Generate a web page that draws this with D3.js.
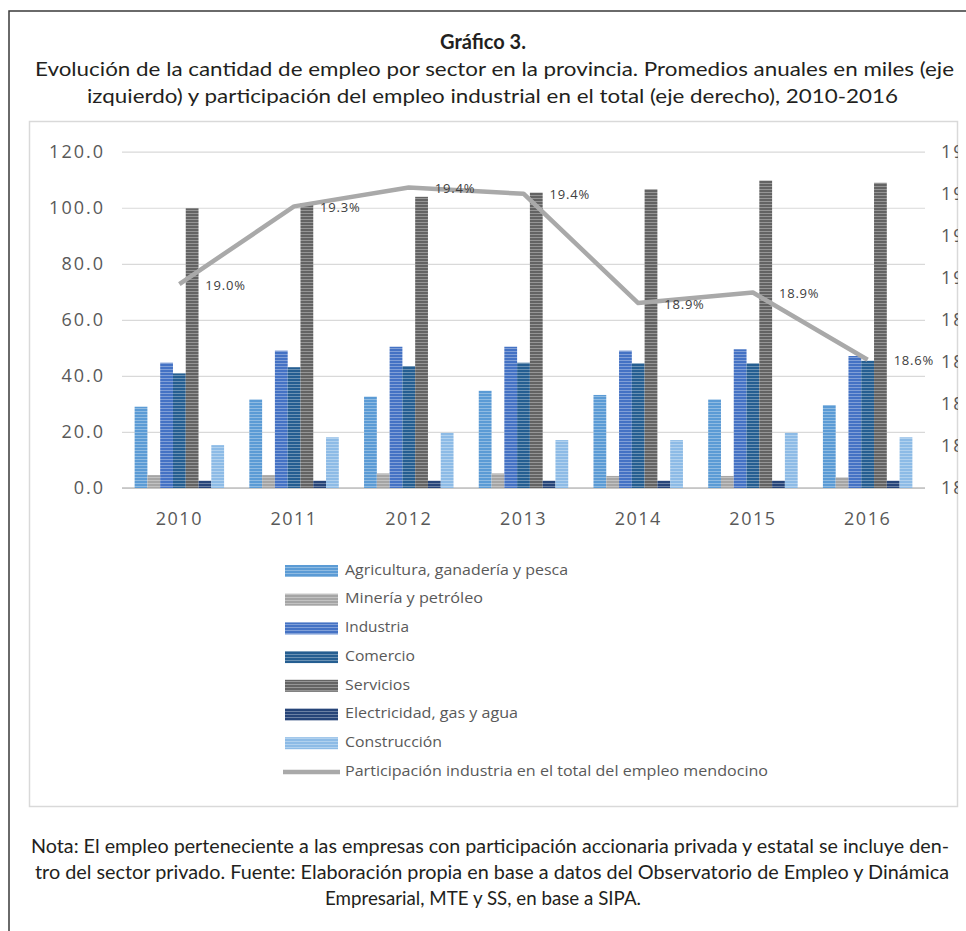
<!DOCTYPE html>
<html>
<head>
<meta charset="utf-8">
<script src="https://cdn.jsdelivr.net/npm/d3@7"></script>
<style>
  html, body { margin: 0; padding: 0; background: #fff; }
  svg { display: block; }
</style>
</head>
<body>
<svg id="chart" width="966" height="931"></svg>
<script>
// ---- Data: annual averages (thousands) by sector, Mendoza 2010-2016 ----
const years = ["2010", "2011", "2012", "2013", "2014", "2015", "2016"];
const sectorNames = [
  "Agricultura, ganadería y pesca",
  "Minería y petróleo",
  "Industria",
  "Comercio",
  "Servicios",
  "Electricidad, gas y agua",
  "Construcción"
];
const agricultura  = [29.0, 31.6, 32.6, 34.7, 33.2, 31.6, 29.6];
const mineria      = [4.6, 4.6, 5.2, 5.2, 4.3, 4.3, 3.8];
const industria    = [44.7, 49.0, 50.4, 50.4, 49.0, 49.5, 47.1];
const comercio     = [40.9, 43.1, 43.5, 44.7, 44.5, 44.5, 45.4];
const servicios    = [99.8, 101.6, 103.9, 105.4, 106.6, 109.7, 108.9];
const electricidad = [2.6, 2.6, 2.6, 2.6, 2.6, 2.6, 2.6];
const construccion = [15.3, 18.1, 19.7, 17.1, 17.1, 19.7, 18.1];
// share of industry in total employment (%), right axis
const lineName = "Participación industria en el total del empleo mendocino";
const participacion = [18.97, 19.34, 19.43, 19.40, 18.88, 18.93, 18.61];

const leftTicks = [0, 20, 40, 60, 80, 100, 120];
const rightTicks = [18.0, 18.2, 18.4, 18.6, 18.8, 19.0, 19.2, 19.4, 19.6];

const seriesValues = [agricultura, mineria, industria, comercio, servicios, electricidad, construccion];
const seriesColors = ["#5b9bd5", "#a5a5a5", "#4472c4", "#255e91", "#636363", "#264478", "#8dbbe6"];
const lineColor = "#a9a9a9";

const svg = d3.select("#chart");
const defs = svg.append("defs");

// striped fills for bars and legend swatches
seriesColors.forEach((c, i) => {
  const p = defs.append("pattern")
    .attr("id", "fill" + i)
    .attr("patternUnits", "userSpaceOnUse")
    .attr("width", 8).attr("height", 3);
  p.append("rect").attr("width", 8).attr("height", 3).attr("fill", c);
  p.append("rect").attr("width", 8).attr("height", 1)
    .attr("fill", d3.interpolateRgb(c, "#ffffff")(0.32));
});

// clip for right-axis labels, cut at the chart box edge
defs.append("clipPath").attr("id", "rightClip")
  .append("rect").attr("x", 930).attr("y", 120).attr("width", 28).attr("height", 400);

function fit(sel, w) {
  sel.attr("textLength", w).attr("lengthAdjust", "spacingAndGlyphs");
  return sel;
}

// ---- outer frame ----
svg.append("path")
  .attr("d", "M9,931 V11 H966")
  .attr("fill", "none").attr("stroke", "#3a3a3a").attr("stroke-width", 1.5);

// ---- title block ----
const titleFont = "Lato, 'Open Sans', sans-serif";
svg.append("text")
  .attr("x", 483).attr("y", 44).attr("text-anchor", "middle")
  .attr("dominant-baseline", "middle")
  .style("font-family", titleFont).style("font-size", "20px").style("font-weight", "bold")
  .attr("fill", "#231f20")
  .text("Gráfico 3.");
fit(svg.append("text")
  .attr("x", 35).attr("y", 71).attr("dominant-baseline", "middle")
  .style("font-family", titleFont).style("font-size", "20px").attr("fill", "#231f20")
  .text("Evolución de la cantidad de empleo por sector en la provincia. Promedios anuales en miles (eje"), 919);
fit(svg.append("text")
  .attr("x", 87).attr("y", 98).attr("dominant-baseline", "middle")
  .style("font-family", titleFont).style("font-size", "20px").attr("fill", "#231f20")
  .text("izquierdo) y participación del empleo industrial en el total (eje derecho), 2010-2016"), 811);

// ---- chart box ----
svg.append("rect")
  .attr("x", 29.5).attr("y", 121.5).attr("width", 928).attr("height", 685)
  .attr("fill", "#ffffff").attr("stroke", "#d9d9d9").attr("stroke-width", 1.5);

// ---- scales ----
const plot = { left: 122, right: 925, top: 151.7, bottom: 488 };
const x0 = d3.scaleBand().domain(years).range([plot.left, plot.right])
  .paddingInner(0.22).paddingOuter(0.11);
const x1 = d3.scaleBand().domain(d3.range(sectorNames.length)).range([0, x0.bandwidth()]);
const yL = d3.scaleLinear().domain([0, 120]).range([plot.bottom, plot.top]);
const yR = d3.scaleLinear().domain([18.0, 19.6]).range([plot.bottom, plot.top]);

const axisFont = "'Open Sans', sans-serif";
const axisColor = "#595959";

// left axis with gridlines
const gL = svg.append("g").attr("transform", `translate(${plot.left},0)`)
  .call(d3.axisLeft(yL).tickValues(leftTicks).tickFormat(d3.format(".1f"))
    .tickSize(-(plot.right - plot.left)).tickPadding(17));
gL.select(".domain").remove();
gL.selectAll(".tick line").attr("stroke", "#d9d9d9").attr("stroke-width", 1.2);
gL.selectAll(".tick text")
  .style("font-family", axisFont).style("font-size", "18px")
  .style("letter-spacing", "2px").attr("fill", axisColor);

// baseline
svg.append("line")
  .attr("x1", plot.left).attr("x2", plot.right)
  .attr("y1", yL(0)).attr("y2", yL(0))
  .attr("stroke", "#bfbfbf").attr("stroke-width", 1.5);

// right axis labels
const gR = svg.append("g").attr("clip-path", "url(#rightClip)")
  .append("g").attr("transform", "translate(941,0)")
  .call(d3.axisRight(yR).tickValues(rightTicks).tickFormat(d => d.toFixed(1) + "%")
    .tickSize(0).tickPadding(0));
gR.select(".domain").remove();
gR.selectAll(".tick text")
  .style("font-family", axisFont).style("font-size", "18px")
  .style("letter-spacing", "2px").attr("fill", axisColor);

// bottom category labels
const gB = svg.append("g").attr("transform", `translate(0,${plot.bottom})`)
  .call(d3.axisBottom(x0).tickSize(0).tickPadding(24));
gB.select(".domain").remove();
gB.selectAll(".tick text")
  .style("font-family", axisFont).style("font-size", "18px")
  .style("letter-spacing", "1.5px").attr("fill", axisColor);

// ---- bars ----
const groups = svg.append("g").selectAll("g")
  .data(years).join("g")
  .attr("transform", d => `translate(${x0(d)},0)`);
groups.selectAll("rect")
  .data((yr, yi) => seriesValues.map((vals, si) => ({ si, v: vals[yi] })))
  .join("rect")
  .attr("x", d => x1(d.si))
  .attr("width", x1.bandwidth())
  .attr("y", d => yL(d.v))
  .attr("height", d => yL(0) - yL(d.v))
  .attr("fill", d => `url(#fill${d.si})`);

// ---- line on right axis ----
const linePts = years.map((yr, i) => ({ x: x0(yr) + x0.bandwidth() / 2, y: yR(participacion[i]), v: participacion[i] }));
svg.append("path")
  .datum(linePts)
  .attr("d", d3.line().x(d => d.x).y(d => d.y))
  .attr("fill", "none").attr("stroke", lineColor)
  .attr("stroke-width", 4.5).attr("stroke-linejoin", "round");

svg.append("g").selectAll("text")
  .data(linePts).join("text")
  .attr("x", d => d.x + 26).attr("y", d => d.y + 2)
  .attr("dominant-baseline", "middle")
  .style("font-family", axisFont).style("font-size", "13px")
  .style("letter-spacing", "0.8px").attr("fill", "#404040")
  .text(d => d.v.toFixed(1) + "%");

// ---- legend ----
const legendWidths = [223, 138, 64, 70, 65, 173, 97, 423];
const legendY0 = 571, legendStep = 28.7;
const leg = svg.append("g");
sectorNames.forEach((name, i) => {
  const cy = legendY0 + i * legendStep;
  leg.append("rect")
    .attr("x", 285).attr("y", cy - 6).attr("width", 53).attr("height", 12)
    .attr("fill", `url(#fill${i})`);
  fit(leg.append("text")
    .attr("x", 345).attr("y", cy).attr("dominant-baseline", "middle")
    .style("font-family", axisFont).style("font-size", "14px").attr("fill", axisColor)
    .text(name), legendWidths[i]);
});
{
  const cy = legendY0 + sectorNames.length * legendStep;
  leg.append("line")
    .attr("x1", 283).attr("x2", 340).attr("y1", cy).attr("y2", cy)
    .attr("stroke", lineColor).attr("stroke-width", 4.5);
  fit(leg.append("text")
    .attr("x", 345).attr("y", cy).attr("dominant-baseline", "middle")
    .style("font-family", axisFont).style("font-size", "14px").attr("fill", axisColor)
    .text(lineName), legendWidths[sectorNames.length]);
}

// ---- footnote ----
fit(svg.append("text")
  .attr("x", 31).attr("y", 848).attr("dominant-baseline", "middle")
  .style("font-family", titleFont).style("font-size", "18.5px").attr("fill", "#231f20")
  .text("Nota: El empleo perteneciente a las empresas con participación accionaria privada y estatal se incluye den-"), 918);
fit(svg.append("text")
  .attr("x", 35).attr("y", 874).attr("dominant-baseline", "middle")
  .style("font-family", titleFont).style("font-size", "18.5px").attr("fill", "#231f20")
  .text("tro del sector privado. Fuente: Elaboración propia en base a datos del Observatorio de Empleo y Dinámica"), 914);
fit(svg.append("text")
  .attr("x", 325).attr("y", 900).attr("dominant-baseline", "middle")
  .style("font-family", titleFont).style("font-size", "18.5px").attr("fill", "#231f20")
  .text("Empresarial, MTE y SS, en base a SIPA."), 316);
</script>
</body>
</html>
